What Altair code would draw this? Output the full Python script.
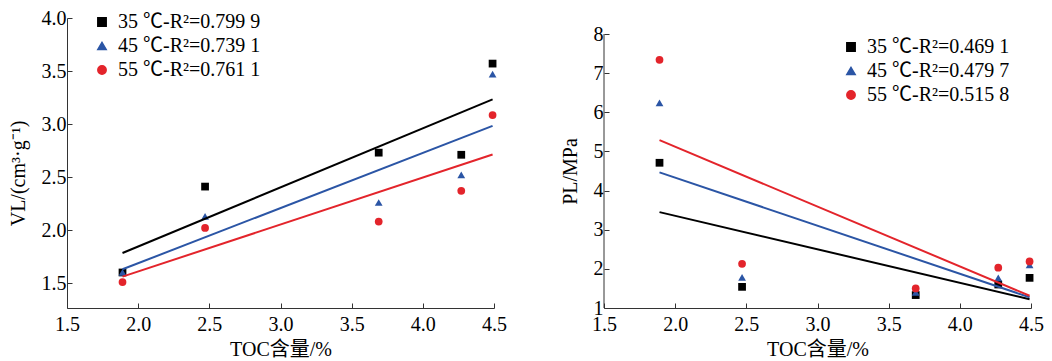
import altair as alt
import pandas as pd

# ---- data ----
toc = [1.89, 2.47, 3.69, 4.27, 4.49]

vl_35 = [1.60, 2.41, 2.73, 2.71, 3.57]
vl_45 = [1.60, 2.13, 2.26, 2.52, 3.47]
vl_55 = [1.51, 2.02, 2.08, 2.37, 3.085]

pl_35 = [4.71, 1.54, 1.33, 1.60, 1.77]
pl_45 = [6.24, 1.78, 1.40, 1.77, 2.10]
pl_55 = [7.34, 2.13, 1.50, 2.03, 2.19]

vl_labels = ["35 ℃-R²=0.799 9", "45 ℃-R²=0.739 1", "55 ℃-R²=0.761 1"]
pl_labels = ["35 ℃-R²=0.469 1", "45 ℃-R²=0.479 7", "55 ℃-R²=0.515 8"]

x_ticks = [1.5, 2.0, 2.5, 3.0, 3.5, 4.0, 4.5]
vl_ticks = [1.5, 2.0, 2.5, 3.0, 3.5, 4.0]
pl_ticks = [1, 2, 3, 4, 5, 6, 7, 8]

colors = ["#000000", "#2b55a5", "#e3242b"]
shapes = ["square", "triangle-up", "circle"]

FONT = "Liberation Serif, Noto Sans CJK SC"
AX = "#333333"

T = 18          # approx top of view
H = 290         # view height
W = 427         # view width


def long_df(labels, series):
    rows = []
    for lab, vals in zip(labels, series):
        for x, v in zip(toc, vals):
            rows.append({"toc": x, "val": v, "label": lab})
    return pd.DataFrame(rows)


def panel(df, labels, yticks, ydomain, ytitle, ytitle_y, lx, ly, ydomain_line=True, axis_df=None):
    xs = alt.Scale(domain=[1.5, 4.5], nice=False, zero=False)
    ys = alt.Scale(domain=ydomain, nice=False, zero=False)
    xaxis = alt.Axis(values=x_ticks, format=".1f", title="TOC含量/%", titlePadding=5,
                     labelPadding=11, labelFlush=False)
    yaxis = alt.Axis(values=yticks, format=".1f" if yticks[0] != 1 else "d", title=ytitle,
                     titleY=ytitle_y, titlePadding=13, labelPadding=6, domain=ydomain_line,
                     labelFlush=False)
    cscale = alt.Scale(domain=labels, range=colors)
    sscale = alt.Scale(domain=labels, range=shapes)
    leg = alt.Legend(orient="none", legendX=lx, legendY=ly, title=None)

    points = alt.Chart(df).mark_point(filled=True, size=60, opacity=1).encode(
        x=alt.X("toc:Q", scale=xs, axis=xaxis),
        y=alt.Y("val:Q", scale=ys, axis=yaxis),
        color=alt.Color("label:N", scale=cscale, legend=leg),
        shape=alt.Shape("label:N", scale=sscale, legend=leg),
    )
    layers = [points]
    if axis_df is not None:
        rule = alt.Chart(axis_df).mark_rule(color=AX, strokeWidth=1).encode(
            x=alt.X("toc:Q", scale=xs, axis=xaxis),
            y=alt.Y("val:Q", scale=ys, axis=yaxis),
            y2="val2:Q",
        )
        layers.append(rule)
    lines = alt.Chart(df).transform_regression(
        "toc", "val", groupby=["label"]
    ).mark_line(strokeWidth=2).encode(
        x=alt.X("toc:Q", scale=xs, axis=xaxis),
        y=alt.Y("val:Q", scale=ys, axis=yaxis),
        detail="label:N",
        stroke=alt.Stroke("label:N", scale=cscale, legend=None),
    )
    layers.append(lines)
    return alt.layer(*layers).properties(width=W, height=H)


vl_df = long_df(vl_labels, [vl_35, vl_45, vl_55])
pl_df = long_df(pl_labels, [pl_35, pl_45, pl_55])

per_unit = 274 / 7.0
pl_top = 1 + H / per_unit
pl_axis = pd.DataFrame({"toc": [x_ticks[0]], "val": [pl_ticks[0]], "val2": [pl_ticks[-1]]})

left = panel(vl_df, vl_labels, vl_ticks, [1.265, 4.0], "VL/(cm³·g⁻¹)", 173 - T, 25, -6)
right = panel(pl_df, pl_labels, pl_ticks, [1, pl_top], "PL/MPa", 171 - T, 237, 19,
              ydomain_line=False, axis_df=pl_axis)

chart = alt.hconcat(left, right, spacing=110, bounds="flush").properties(
    padding={"left": 0, "top": 0, "right": 0, "bottom": 0}
).resolve_scale(color="independent", shape="independent", stroke="independent").configure_view(
    strokeWidth=0
).configure_axis(
    grid=False,
    domainColor=AX,
    tickColor=AX,
    tickSize={"expr": "-5"},
    labelFont=FONT,
    labelFontSize=20,
    labelColor="#000",
    titleFont=FONT,
    titleFontSize=20,
    titleFontWeight="normal",
    titleColor="#000",
).configure_legend(
    labelFont=FONT,
    labelFontSize=20,
    labelColor="#000",
    symbolSize=70,
    rowPadding=4,
    labelOffset=6,
    padding=0,
)

chart.save("out.html", embed_options={"renderer": "svg", "actions": False})
